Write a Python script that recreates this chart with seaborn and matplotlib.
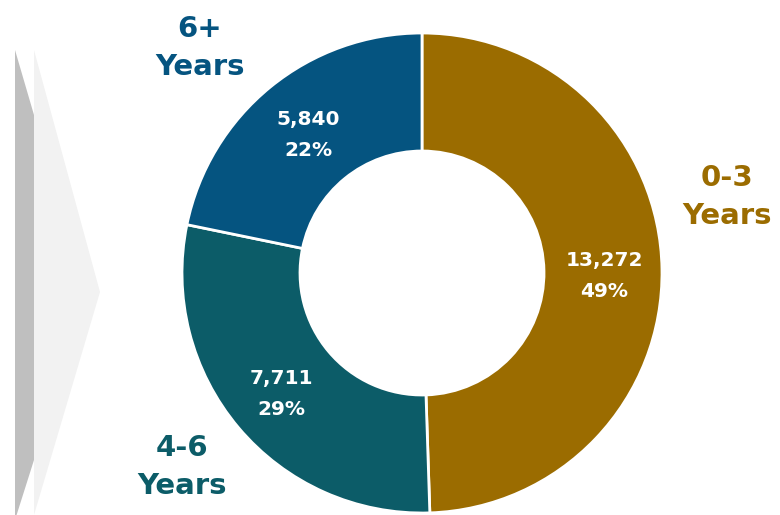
import matplotlib
matplotlib.use("Agg")
import matplotlib.pyplot as plt
from matplotlib.patches import Polygon
import seaborn as sns

# Tenure groups and counts
categories = ["0-3\nYears", "4-6\nYears", "6+\nYears"]
counts = [13272, 7711, 5840]
colors = ["#9B6C00", "#0C5C68", "#055480"]

sns.set_theme(style="white")
plt.rcParams["font.family"] = ["DejaVu Sans"]

W, H = 780, 515
fig = plt.figure(figsize=(W / 100, H / 100), dpi=100)
ax = fig.add_axes([0, 0, 1, 1])

# Decorative chevron on the left edge
ax.add_patch(Polygon([(34, H - 50), (100, H - 292), (34, H - 515), (34, H - 50)],
                     closed=True, facecolor="#F2F2F2", edgecolor="none", zorder=0))
ax.add_patch(Polygon([(15, H - 50), (34, H - 115), (34, H - 460), (15, H - 520)],
                     closed=True, facecolor="#BFBFBF", edgecolor="none", zorder=0))

cx, cy = 422, H - 273
r_out, r_in = 240, 122
wedges, _ = ax.pie(counts, colors=colors, startangle=90, counterclock=False,
                   center=(cx, cy), radius=r_out,
                   wedgeprops=dict(width=r_out - r_in, edgecolor="white", linewidth=2),
                   frame=True)
ax.set_xlim(0, W)
ax.set_ylim(0, H)
ax.set_aspect("equal")
ax.axis("off")

total = sum(counts)
inner_pos = [(604, 276), (281, 394), (308, 135)]
outer_pos = [(727, 197), (182, 467), (200, 48)]
for cat, n, col, (ix, iy), (ox, oy) in zip(categories, counts, colors, inner_pos, outer_pos):
    ax.text(ix, H - iy, f"{n:,}\n{round(100 * n / total)}%", color="white",
            fontsize=14.5, fontweight="bold", ha="center", va="center",
            linespacing=1.85)
    ax.text(ox, H - oy, cat, color=col, fontsize=21, fontweight="bold",
            ha="center", va="center", linespacing=1.45)

fig.savefig("out.png", dpi=100)
